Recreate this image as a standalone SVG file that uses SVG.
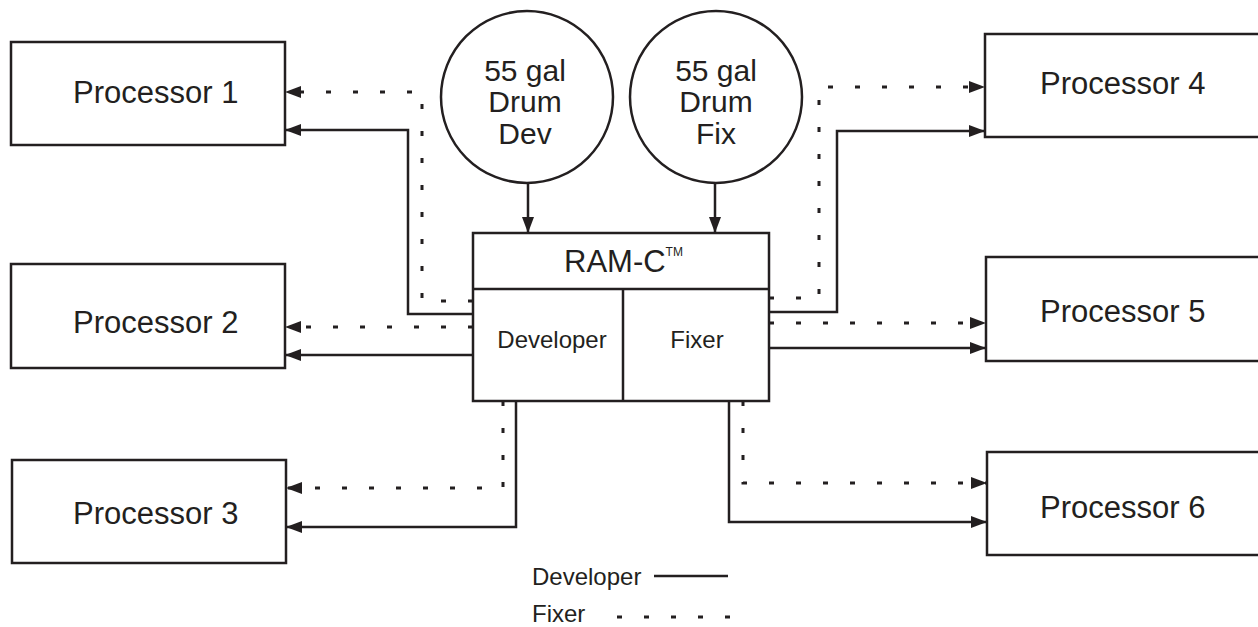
<svg xmlns="http://www.w3.org/2000/svg" width="1258" height="627" viewBox="0 0 1258 627">
<style>
  .box{fill:#fff;stroke:#231f20;stroke-width:2.5}
  .t{font-family:"Liberation Sans",Arial,sans-serif;fill:#231f20}
  .big{font-size:31px}
  .drum{font-size:30px}
  .mid{font-size:24px}
  .solid{fill:none;stroke:#231f20;stroke-width:2.5}
  .dot{fill:none;stroke:#231f20;stroke-width:3;stroke-dasharray:5 22}
</style>
<defs>
  <marker id="ah" viewBox="0 0 16 12" refX="16" refY="6" markerWidth="16" markerHeight="12" markerUnits="userSpaceOnUse" orient="auto">
    <path d="M0,0 L16,6 L0,12 z" fill="#231f20"/>
  </marker>
</defs>
<rect width="1258" height="627" fill="#fff"/>

<g id="connectors">
  <path class="solid" d="M528,183 V233" marker-end="url(#ah)"/>
  <path class="solid" d="M715,183 V233" marker-end="url(#ah)"/>
  <path class="solid" d="M473,314 H408 V130 H285" marker-end="url(#ah)"/>
  <path class="solid" d="M473,355 H285" marker-end="url(#ah)"/>
  <path class="solid" d="M516,401 V527 H286" marker-end="url(#ah)"/>
  <path class="dot" d="M473,301 H422 V92 H285" marker-end="url(#ah)"/>
  <path class="dot" d="M473,327 H285" marker-end="url(#ah)"/>
  <path class="dot" d="M503,401 V488 H286" marker-end="url(#ah)"/>
  <path class="solid" d="M769,312 H837 V131 H985" marker-end="url(#ah)"/>
  <path class="solid" d="M769,348 H986" marker-end="url(#ah)"/>
  <path class="solid" d="M729,401 V522 H987" marker-end="url(#ah)"/>
  <path class="dot" d="M769,298 H819 V87 H985" marker-end="url(#ah)"/>
  <path class="dot" d="M769,323 H986" marker-end="url(#ah)"/>
  <path class="dot" d="M743,401 V483 H987" marker-end="url(#ah)"/>
</g>

<g id="drum-dev">
  <circle class="box" cx="527" cy="97" r="86"/>
  <text class="t drum" text-anchor="middle" x="525" y="81">55 gal</text>
  <text class="t drum" text-anchor="middle" x="525" y="112">Drum</text>
  <text class="t drum" text-anchor="middle" x="525" y="144">Dev</text>
</g>
<g id="drum-fix">
  <circle class="box" cx="716" cy="97" r="86"/>
  <text class="t drum" text-anchor="middle" x="716" y="81">55 gal</text>
  <text class="t drum" text-anchor="middle" x="716" y="112">Drum</text>
  <text class="t drum" text-anchor="middle" x="716" y="144">Fix</text>
</g>

<g id="ramc">
  <rect class="box" x="473" y="233" width="296" height="168"/>
  <line class="solid" x1="473" y1="289" x2="769" y2="289"/>
  <line class="solid" x1="623" y1="289" x2="623" y2="401"/>
  <text class="t big" x="564" y="272">RAM-C<tspan font-size="12" dy="-16">TM</tspan></text>
  <text class="t mid" text-anchor="middle" x="552" y="348">Developer</text>
  <text class="t mid" text-anchor="middle" x="697" y="348">Fixer</text>
</g>

<g id="p1">
  <rect class="box" x="11" y="42" width="274" height="103"/>
  <text class="t big" x="73" y="103">Processor 1</text>
</g>
<g id="p2">
  <rect class="box" x="11" y="264" width="274" height="104"/>
  <text class="t big" x="73" y="333">Processor 2</text>
</g>
<g id="p3">
  <rect class="box" x="12" y="460" width="274" height="103"/>
  <text class="t big" x="73" y="524">Processor 3</text>
</g>
<g id="p4">
  <rect class="box" x="985" y="34" width="285" height="103"/>
  <text class="t big" x="1040" y="94">Processor 4</text>
</g>
<g id="p5">
  <rect class="box" x="986" y="257" width="285" height="104"/>
  <text class="t big" x="1040" y="322">Processor 5</text>
</g>
<g id="p6">
  <rect class="box" x="987" y="452" width="285" height="103"/>
  <text class="t big" x="1040" y="518">Processor 6</text>
</g>

<g id="legend">
  <text class="t mid" x="532" y="585">Developer</text>
  <line class="solid" x1="654" y1="576" x2="728" y2="576"/>
  <text class="t mid" x="532" y="622">Fixer</text>
  <line class="dot" x1="617" y1="617" x2="735" y2="617"/>
</g>
</svg>
